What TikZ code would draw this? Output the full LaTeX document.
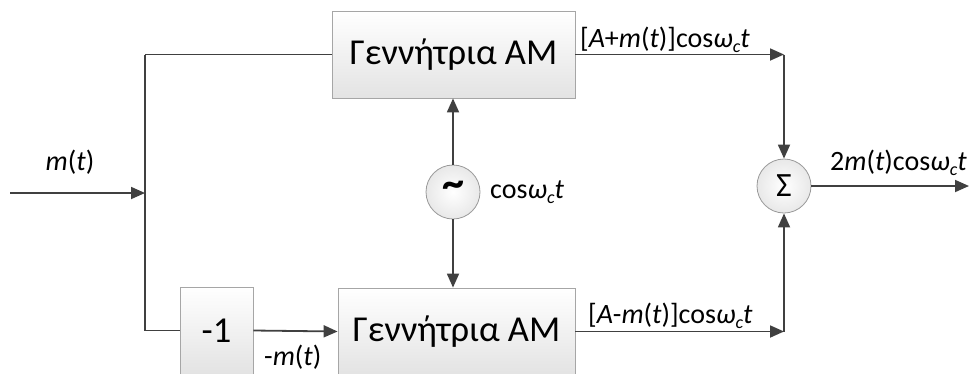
\documentclass[tikz,border=0pt]{standalone}
\usepackage{fontspec}
\setmainfont{Carlito}
\usetikzlibrary{arrows.meta}
% carrier term: cos omega_c t
\newcommand{\carrier}{cos\textit{ω}\raisebox{-0.35ex}{\fontsize{18}{18}\selectfont\textit{c}}\textit{t}}
\begin{document}
\begin{tikzpicture}[x=1pt,y=-1pt,
  wire/.style={draw=black!75, line width=1.8pt},
  sig/.style={wire, -{Triangle[length=14pt,width=12pt]}},
  blk/.style={draw=black!35, line width=0.8pt, top color=white, bottom color=black!11, inner sep=0pt},
  circ/.style={circle, draw=black!40, line width=0.8pt, inner color=white, outer color=black!9, minimum size=54pt, inner sep=0pt},
  blktext/.style={font=\fontsize{36.5}{40}\selectfont},
  lbl/.style={font=\fontsize{28}{32}\selectfont, inner sep=0pt}]
\useasboundingbox (0,0) rectangle (969,373);
\clip (0,0) rectangle (969,373);

% blocks
\node[blk, blktext, minimum width=243pt, minimum height=87pt] (am1) at (453.5,54.5) {Γεννήτρια ΑΜ};
\node[blk, blktext, minimum width=237pt, minimum height=87pt] (am2) at (456.5,331.5) {Γεννήτρια ΑΜ};
\node[blk, blktext, minimum width=73pt, minimum height=87pt] (neg) at (216.5,330.5) {-1};
\node[circ, font=\fontsize{44}{44}\selectfont] (osc) at (453,192) {\raisebox{0.3ex}{\textbf{\textasciitilde}}};
\node[circ, font=\fontsize{34}{34}\selectfont] (sum) at (784,186) {Σ};

% junction points
\coordinate (in) at (10,193);
\coordinate (j) at (145,193);
\coordinate (jt) at (145,54.5);
\coordinate (jb) at (145,330.5);
\coordinate (c1) at (784,54.5);
\coordinate (c2) at (784,331.5);
\coordinate (out) at (969,186);

% input and split
\draw[sig] (in) -- (j);
\draw[wire] (jt) -- (jb);
\draw[wire] (jt) -- (am1.west);
\draw[wire] (jb) -- (neg.west);
\draw[sig] (neg.east) -- (am2.west);

% carrier to both generators
\draw[sig] (osc.north) -- (osc.north |- am1.south);
\draw[sig] (osc.south) -- (osc.south |- am2.north);

% outputs into the summer
\draw[sig] (am1.east) -- (c1);
\draw[sig] (c1) -- (sum.north);
\draw[sig] (am2.east) -- (c2);
\draw[sig] (c2) -- (sum.south);
\draw[sig] (sum.east) -- (out);

% labels
\node[lbl] (lm) at (70,162) {\textit{m}(\textit{t})};
\node[lbl, anchor=west] (lc) at (490,192) {\carrier};
\node[lbl, anchor=west] (lp) at (580,40) {[\textit{A}+\textit{m}(\textit{t})]\carrier};
\node[lbl, anchor=west] (ln) at (588,316) {[\textit{A}-\textit{m}(\textit{t})]\carrier};
\node[lbl, anchor=west] (ls) at (830,163) {2\textit{m}(\textit{t})\carrier};
\node[lbl, anchor=west] (lneg) at (264,357) {-\textit{m}(\textit{t})};
\end{tikzpicture}
\end{document}
